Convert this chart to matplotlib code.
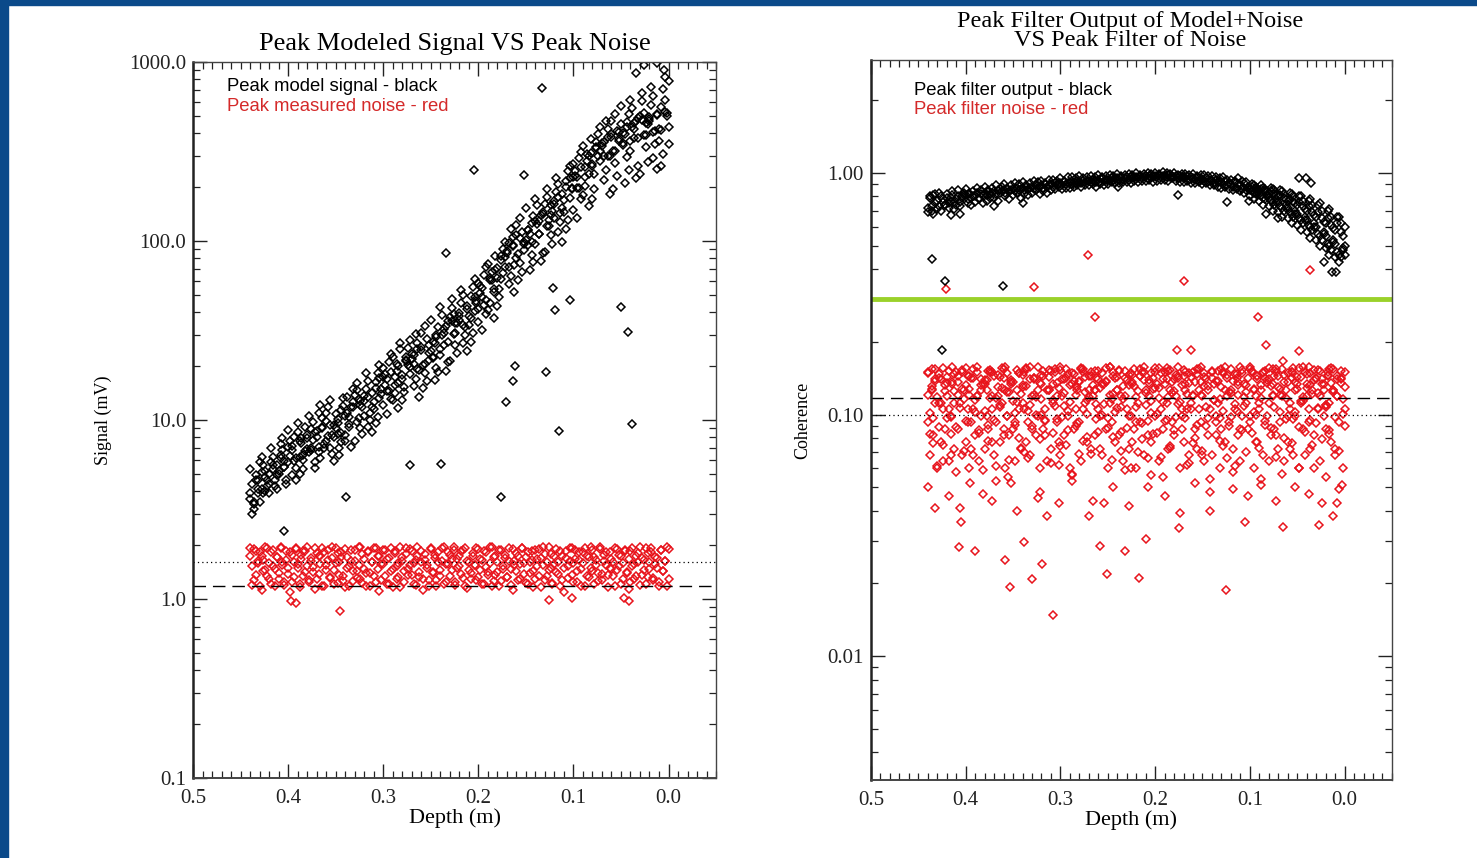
import matplotlib.pyplot as plt
from matplotlib.patches import Rectangle
from matplotlib.ticker import FixedLocator, MultipleLocator, LogLocator, NullFormatter

# depth samples (m), shared by all four series
depth = [
    0.440, 0.438, 0.436, 0.434, 0.432, 0.430, 0.428, 0.426, 0.424, 0.422,
    0.420, 0.418, 0.416, 0.414, 0.412, 0.410, 0.408, 0.406, 0.404, 0.402,
    0.400, 0.398, 0.396, 0.394, 0.392, 0.390, 0.388, 0.386, 0.384, 0.382,
    0.380, 0.378, 0.376, 0.374, 0.372, 0.370, 0.368, 0.366, 0.364, 0.362,
    0.360, 0.358, 0.356, 0.354, 0.352, 0.350, 0.348, 0.346, 0.344, 0.342,
    0.340, 0.338, 0.336, 0.334, 0.332, 0.330, 0.328, 0.326, 0.324, 0.322,
    0.320, 0.318, 0.316, 0.314, 0.312, 0.310, 0.308, 0.306, 0.304, 0.302,
    0.300, 0.298, 0.296, 0.294, 0.292, 0.290, 0.288, 0.286, 0.284, 0.282,
    0.280, 0.278, 0.276, 0.274, 0.272, 0.270, 0.268, 0.266, 0.264, 0.262,
    0.260, 0.258, 0.256, 0.254, 0.252, 0.250, 0.248, 0.246, 0.244, 0.242,
    0.240, 0.238, 0.236, 0.234, 0.232, 0.230, 0.228, 0.226, 0.224, 0.222,
    0.220, 0.218, 0.216, 0.214, 0.212, 0.210, 0.208, 0.206, 0.204, 0.202,
    0.200, 0.198, 0.196, 0.194, 0.192, 0.190, 0.188, 0.186, 0.184, 0.182,
    0.180, 0.178, 0.176, 0.174, 0.172, 0.170, 0.168, 0.166, 0.164, 0.162,
    0.160, 0.158, 0.156, 0.154, 0.152, 0.150, 0.148, 0.146, 0.144, 0.142,
    0.140, 0.138, 0.136, 0.134, 0.132, 0.130, 0.128, 0.126, 0.124, 0.122,
    0.120, 0.118, 0.116, 0.114, 0.112, 0.110, 0.108, 0.106, 0.104, 0.102,
    0.100, 0.098, 0.096, 0.094, 0.092, 0.090, 0.088, 0.086, 0.084, 0.082,
    0.080, 0.078, 0.076, 0.074, 0.072, 0.070, 0.068, 0.066, 0.064, 0.062,
    0.060, 0.058, 0.056, 0.054, 0.052, 0.050, 0.048, 0.046, 0.044, 0.042,
    0.040, 0.038, 0.036, 0.034, 0.032, 0.030, 0.028, 0.026, 0.024, 0.022,
    0.020, 0.018, 0.016, 0.014, 0.012, 0.010, 0.008, 0.006, 0.004, 0.002,
    0.000]

# peak model signal (mV), three passes (sig_c on every other depth)
sig_a = [
    3.6, 4.4, 3.2, 4.9, 3.9, 3.5, 5.1, 5.6, 4.0, 4.6,
    5.0, 5.8, 6.2, 4.6, 4.1, 5.2, 7.3, 6.8, 5.9, 4.6,
    7.1, 6.3, 4.9, 8.0, 5.4, 8.6, 6.2, 7.4, 5.3, 9.1,
    8.2, 6.6, 7.0, 9.8, 5.8, 8.7, 11.0, 6.1, 10.2, 7.3,
    9.9, 11.8, 7.0, 8.3, 5.9, 10.8, 9.6, 6.4, 7.5, 12.0,
    8.2, 13.5, 10.4, 7.1, 12.6, 7.6, 14.8, 13.1, 9.0, 11.9,
    12.8, 15.0, 16.5, 10.0, 8.6, 11.5, 9.6, 18.4, 17.2, 14.9,
    19.5, 15.6, 10.8, 21.0, 13.1, 22.6, 14.2, 18.9, 11.7, 24.8,
    12.9, 15.3, 22.4, 25.1, 19.8, 23.3, 20.5, 16.9, 27.0, 13.4,
    30.5, 15.1, 18.2, 28.3, 21.7, 24.2, 27.4, 16.8, 19.6, 33.0,
    23.1, 38.5, 30.8, 18.9, 35.6, 21.3, 42.0, 39.1, 26.2, 34.7,
    36.0, 45.3, 49.8, 29.9, 24.4, 33.8, 27.2, 55.6, 40.5, 46.1,
    58.4, 51.0, 31.7, 64.2, 38.9, 74.8, 45.3, 60.7, 37.0, 69.1,
    43.6, 54.2, 82.5, 90.3, 71.8, 88.0, 97.2, 63.4, 106, 51.7,
    123, 60.2, 75.1, 112, 96.8, 101, 115, 68.5, 83.9, 138,
    96.4, 158, 129, 77.0, 145, 86.3, 176, 131, 108, 147,
    168, 189, 208, 127, 98.7, 146, 116, 245, 224, 199,
    268, 231, 135, 290, 172, 340, 203, 281, 156, 312,
    171, 236, 356, 395, 318, 351, 297, 249, 425, 184,
    468, 196, 274, 410, 372, 448, 401, 210, 293, 512,
    318, 556, 425, 226, 489, 238, 604, 520, 334, 452,
    470, 572, 648, 349, 251, 362, 262, 705, 610, 498,
    780]
sig_b = [
    5.3, 3.0, 3.4, 4.6, 4.1, 5.8, 6.2, 3.9, 4.8, 4.3,
    3.9, 7.0, 5.3, 4.3, 5.6, 5.0, 6.4, 7.9, 5.5, 4.4,
    8.8, 7.6, 6.8, 5.9, 4.6, 9.6, 5.0, 7.9, 6.0, 6.7,
    6.9, 10.6, 8.9, 7.7, 5.4, 8.0, 6.6, 12.1, 9.2, 7.0,
    10.9, 8.1, 12.9, 6.5, 9.4, 9.0, 8.4, 7.0, 11.4, 13.3,
    7.6, 10.9, 9.5, 11.8, 15.0, 13.8, 16.2, 10.3, 12.2, 8.4,
    13.6, 18.3, 9.2, 11.0, 14.1, 12.6, 16.3, 10.4, 20.3, 14.0,
    12.1, 18.0, 16.9, 14.6, 23.4, 13.0, 17.4, 20.6, 16.0, 26.9,
    17.8, 14.4, 21.7, 20.3, 28.0, 22.0, 15.5, 30.1, 25.0, 19.0,
    25.6, 20.4, 33.7, 16.6, 23.8, 36.4, 22.3, 26.9, 29.8, 18.5,
    42.6, 29.8, 26.4, 33.4, 21.0, 37.4, 47.2, 30.1, 35.0, 23.8,
    38.2, 53.6, 27.0, 33.0, 41.9, 38.2, 49.5, 30.6, 61.5, 44.9,
    35.2, 56.0, 48.6, 44.1, 71.3, 41.0, 60.5, 66.8, 52.1, 82.0,
    61.9, 48.5, 78.0, 66.4, 99.0, 85.6, 57.8, 117, 95.1, 73.5,
    108, 84.2, 135, 67.0, 99.3, 152, 95.5, 110, 126, 76.2,
    172, 125, 110, 139, 86.0, 162, 195, 122, 140, 96.6,
    160, 226, 112, 143, 182, 170, 216, 131, 262, 196,
    150, 245, 228, 199, 316, 180, 260, 305, 236, 372,
    270, 196, 330, 298, 432, 338, 220, 470, 382, 300,
    395, 318, 515, 232, 360, 565, 352, 396, 460, 248,
    610, 432, 378, 470, 262, 498, 668, 390, 455, 276,
    480, 725, 290, 410, 515, 420, 560, 305, 820, 520,
    350]
sig_c = [
    3.9, 3.5, 4.6, 4.1, 5.2, 4.4, 5.6, 4.9, 6.1, 5.5,
    5.8, 7.2, 6.1, 7.6, 6.4, 7.9, 6.8, 8.6, 7.1, 9.0,
    7.6, 9.4, 8.0, 10.1, 8.5, 10.6, 9.1, 11.8, 9.8, 12.7,
    10.6, 13.4, 11.8, 15.1, 13.2, 17.3, 14.6, 18.6, 15.7, 20.1,
    16.9, 21.4, 18.1, 23.0, 19.3, 24.6, 20.6, 26.1, 22.4, 29.0,
    24.9, 32.1, 27.4, 35.8, 30.6, 39.7, 33.8, 43.5, 37.2, 48.4,
    41.5, 54.6, 47.1, 62.0, 53.7, 70.6, 61.5, 81.7, 71.2, 94.1,
    80.9, 104, 88.8, 115, 98.9, 129, 110, 141, 121, 158,
    134, 177, 152, 201, 173, 228, 198, 259, 227, 300,
    261, 335, 281, 358, 299, 380, 319, 408, 342, 434,
    361, 455, 375, 472, 389, 490, 404, 507, 418, 526,
    435]
sig_out_depth = [0.205, 0.152, 0.133, 0.234, 0.050, 0.043, 0.038, 0.115, 0.171, 0.164,
                 0.161, 0.129, 0.176, 0.239, 0.272, 0.339, 0.404, 0.104, 0.121, 0.119,
                 0.026, 0.012, 0.005, 0.034]
sig_out = [250, 234, 716, 86, 43, 31, 9.5, 8.7, 12.6, 16.5,
           20, 18.5, 3.7, 5.7, 5.6, 3.7, 2.4, 47, 55, 41,
           960, 985, 900, 870]

# peak measured noise (mV), two passes
noise_a = [
    1.94, 1.52, 1.27, 1.85, 1.63, 1.18, 1.74, 1.43, 1.95, 1.34,
    1.58, 1.22, 1.88, 1.47, 1.71, 1.30, 1.93, 1.55, 1.20, 1.66,
    1.38, 1.82, 1.25, 1.61, 1.94, 1.49, 1.17, 1.77, 1.35, 1.86,
    1.53, 1.24, 1.69, 1.41, 1.92, 1.29, 1.75, 1.57, 1.19, 1.84,
    1.45, 1.65, 1.32, 1.95, 1.21, 1.59, 1.80, 1.37, 1.72, 1.26,
    1.90, 1.50, 1.18, 1.64, 1.43, 1.87, 1.31, 1.55, 1.96, 1.23,
    1.68, 1.40, 1.83, 1.19, 1.61, 1.35, 1.93, 1.47, 1.74, 1.28,
    1.56, 1.89, 1.22, 1.70, 1.44, 1.17, 1.85, 1.52, 1.33, 1.95,
    1.63, 1.25, 1.78, 1.48, 1.91, 1.36, 1.59, 1.20, 1.73, 1.42,
    1.86, 1.30, 1.66, 1.54, 1.18, 1.94, 1.39, 1.76, 1.27, 1.62,
    1.45, 1.92, 1.21, 1.57, 1.83, 1.34, 1.68, 1.96, 1.24, 1.50,
    1.74, 1.38, 1.88, 1.19, 1.63, 1.46, 1.29, 1.81, 1.55, 1.93,
    1.32, 1.67, 1.22, 1.85, 1.51, 1.41, 1.95, 1.18, 1.72, 1.36,
    1.60, 1.89, 1.26, 1.48, 1.77, 1.33, 1.64, 1.20, 1.90, 1.54,
    1.43, 1.73, 1.30, 1.94, 1.58, 1.23, 1.84, 1.40, 1.66, 1.17,
    1.87, 1.52, 1.35, 1.70, 1.96, 1.27, 1.61, 1.45, 1.79, 1.21,
    1.56, 1.91, 1.38, 1.19, 1.75, 1.49, 1.85, 1.31, 1.63, 1.94,
    1.25, 1.68, 1.44, 1.82, 1.18, 1.59, 1.93, 1.34, 1.71, 1.50,
    1.88, 1.22, 1.65, 1.40, 1.95, 1.28, 1.77, 1.55, 1.36, 1.84,
    1.47, 1.62, 1.19, 1.90, 1.53, 1.74, 1.30, 1.86, 1.42, 1.67,
    1.24, 1.94, 1.57, 1.35, 1.80, 1.20, 1.69, 1.46, 1.92, 1.33,
    1.61, 1.83, 1.27, 1.72, 1.50, 1.18, 1.89, 1.44, 1.64, 1.95,
    1.29]
noise_b = [
    1.74, 1.20, 1.91, 1.36, 1.58, 1.84, 1.12, 1.66, 1.45, 1.93,
    1.29, 1.82, 1.53, 1.18, 1.72, 1.40, 1.95, 1.62, 1.24, 1.86,
    1.49, 1.10, 1.76, 1.33, 1.90, 1.57, 1.21, 1.68, 1.85, 1.42,
    1.95, 1.27, 1.63, 1.51, 1.14, 1.80, 1.38, 1.73, 1.92, 1.19,
    1.55, 1.87, 1.31, 1.69, 1.46, 1.94, 1.23, 1.60, 1.83, 1.35,
    1.16, 1.71, 1.52, 1.89, 1.26, 1.64, 1.43, 1.96, 1.30, 1.78,
    1.48, 1.19, 1.85, 1.39, 1.62, 1.93, 1.25, 1.75, 1.11, 1.56,
    1.88, 1.34, 1.67, 1.21, 1.94, 1.47, 1.81, 1.29, 1.59, 1.17,
    1.72, 1.44, 1.92, 1.37, 1.54, 1.86, 1.22, 1.65, 1.95, 1.32,
    1.60, 1.13, 1.79, 1.50, 1.27, 1.90, 1.41, 1.70, 1.18, 1.84,
    1.35, 1.63, 1.95, 1.24, 1.57, 1.76, 1.45, 1.88, 1.20, 1.68,
    1.52, 1.86, 1.31, 1.93, 1.15, 1.61, 1.39, 1.74, 1.55, 1.28,
    1.91, 1.46, 1.66, 1.22, 1.83, 1.36, 1.58, 1.95, 1.26, 1.73,
    1.42, 1.18, 1.87, 1.53, 1.69, 1.33, 1.92, 1.48, 1.12, 1.64,
    1.81, 1.27, 1.56, 1.94, 1.38, 1.72, 1.21, 1.60, 1.85, 1.44,
    1.30, 1.67, 1.90, 1.17, 1.54, 1.79, 1.35, 1.96, 1.49, 1.23,
    1.75, 1.41, 1.62, 1.86, 1.28, 1.10, 1.70, 1.53, 1.93, 1.37,
    1.58, 1.89, 1.24, 1.65, 1.47, 1.82, 1.19, 1.74, 1.32, 1.95,
    1.43, 1.71, 1.55, 1.26, 1.91, 1.38, 1.63, 1.84, 1.16, 1.50,
    1.68, 1.34, 1.94, 1.45, 1.77, 1.22, 1.59, 1.88, 1.40, 1.14,
    1.85, 1.52, 1.29, 1.73, 1.62, 1.95, 1.36, 1.66, 1.21, 1.80,
    1.47, 1.92, 1.31, 1.57, 1.70, 1.25, 1.87, 1.44, 1.64, 1.19,
    1.90]
noise_out_depth = [0.397, 0.392, 0.345, 0.126, 0.101, 0.047, 0.042]
noise_out = [0.98, 0.95, 0.86, 0.99, 1.01, 1.01, 0.98]

# peak filter output (coherence), coh_c on depths 0.100 .. 0.000
coh_a = [
    0.72, 0.79, 0.70, 0.81, 0.75, 0.77, 0.73, 0.80, 0.76, 0.74,
    0.79, 0.75, 0.77, 0.81, 0.76, 0.78, 0.80, 0.76, 0.79, 0.81,
    0.81, 0.78, 0.82, 0.79, 0.80, 0.80, 0.83, 0.79, 0.82, 0.81,
    0.83, 0.81, 0.84, 0.82, 0.83, 0.84, 0.82, 0.85, 0.83, 0.84,
    0.85, 0.83, 0.86, 0.84, 0.85, 0.86, 0.84, 0.87, 0.85, 0.86,
    0.87, 0.85, 0.88, 0.86, 0.87, 0.88, 0.86, 0.89, 0.87, 0.88,
    0.89, 0.87, 0.90, 0.88, 0.89, 0.90, 0.88, 0.91, 0.89, 0.90,
    0.91, 0.89, 0.92, 0.90, 0.91, 0.92, 0.90, 0.92, 0.91, 0.93,
    0.92, 0.91, 0.93, 0.92, 0.93, 0.93, 0.92, 0.94, 0.93, 0.92,
    0.94, 0.92, 0.95, 0.93, 0.94, 0.94, 0.93, 0.95, 0.94, 0.95,
    0.95, 0.94, 0.96, 0.94, 0.95, 0.96, 0.94, 0.96, 0.95, 0.96,
    0.96, 0.95, 0.97, 0.95, 0.96, 0.97, 0.95, 0.97, 0.96, 0.97,
    0.97, 0.96, 0.98, 0.96, 0.97, 0.97, 0.96, 0.98, 0.96, 0.97,
    0.96, 0.97, 0.95, 0.97, 0.96, 0.96, 0.95, 0.97, 0.94, 0.96,
    0.95, 0.94, 0.96, 0.93, 0.95, 0.94, 0.93, 0.95, 0.92, 0.94,
    0.93, 0.91, 0.94, 0.92, 0.93, 0.92, 0.90, 0.93, 0.89, 0.91,
    0.90, 0.88, 0.92, 0.87, 0.90, 0.89, 0.86, 0.91, 0.85, 0.88,
    0.87, 0.84, 0.89, 0.82, 0.86, 0.85, 0.80, 0.87, 0.78, 0.84,
    0.83, 0.77, 0.86, 0.74, 0.81, 0.80, 0.73, 0.84, 0.70, 0.78,
    0.77, 0.69, 0.82, 0.66, 0.75, 0.74, 0.65, 0.80, 0.62, 0.71,
    0.70, 0.61, 0.78, 0.58, 0.67, 0.66, 0.56, 0.75, 0.53, 0.63,
    0.62, 0.51, 0.71, 0.48, 0.59, 0.58, 0.47, 0.66, 0.45, 0.55,
    0.50]
coh_b = [
    0.69, 0.80, 0.73, 0.68, 0.82, 0.71, 0.83, 0.70, 0.78, 0.74,
    0.82, 0.72, 0.79, 0.84, 0.71, 0.74, 0.85, 0.73, 0.80, 0.83,
    0.86, 0.75, 0.83, 0.74, 0.84, 0.76, 0.87, 0.78, 0.85, 0.75,
    0.88, 0.77, 0.85, 0.79, 0.87, 0.79, 0.89, 0.77, 0.86, 0.88,
    0.90, 0.80, 0.87, 0.78, 0.89, 0.81, 0.91, 0.83, 0.90, 0.79,
    0.92, 0.82, 0.89, 0.81, 0.91, 0.83, 0.93, 0.85, 0.92, 0.82,
    0.93, 0.84, 0.91, 0.83, 0.94, 0.85, 0.94, 0.86, 0.93, 0.88,
    0.95, 0.86, 0.93, 0.87, 0.96, 0.87, 0.96, 0.88, 0.95, 0.89,
    0.97, 0.88, 0.95, 0.89, 0.96, 0.89, 0.97, 0.90, 0.96, 0.88,
    0.98, 0.90, 0.96, 0.89, 0.97, 0.90, 0.98, 0.92, 0.97, 0.91,
    0.99, 0.91, 0.97, 0.92, 0.98, 0.92, 0.99, 0.91, 0.98, 0.93,
    1.00, 0.92, 0.98, 0.93, 0.99, 0.93, 1.00, 0.94, 0.99, 0.92,
    1.00, 0.93, 0.99, 0.94, 1.01, 0.94, 1.00, 0.93, 0.99, 0.95,
    1.00, 0.93, 0.98, 0.92, 0.99, 0.92, 0.99, 0.93, 0.98, 0.91,
    0.99, 0.91, 0.97, 0.92, 0.98, 0.90, 0.98, 0.91, 0.97, 0.89,
    0.97, 0.89, 0.96, 0.88, 0.95, 0.87, 0.96, 0.88, 0.94, 0.86,
    0.94, 0.85, 0.93, 0.86, 0.95, 0.84, 0.93, 0.83, 0.92, 0.87,
    0.85, 0.88, 0.83, 0.87, 0.84, 0.82, 0.86, 0.79, 0.84, 0.81,
    0.79, 0.84, 0.76, 0.82, 0.78, 0.76, 0.81, 0.72, 0.79, 0.74,
    0.72, 0.78, 0.68, 0.76, 0.70, 0.68, 0.76, 0.64, 0.73, 0.66,
    0.64, 0.73, 0.60, 0.69, 0.62, 0.60, 0.69, 0.55, 0.65, 0.57,
    0.55, 0.65, 0.50, 0.61, 0.53, 0.51, 0.62, 0.46, 0.57, 0.49,
    0.60]
coh_c = [
    0.80, 0.90, 0.78, 0.88, 0.82, 0.77, 0.89, 0.74, 0.86, 0.80,
    0.73, 0.87, 0.70, 0.85, 0.76, 0.69, 0.85, 0.66, 0.82, 0.72,
    0.65, 0.83, 0.62, 0.80, 0.68, 0.61, 0.80, 0.58, 0.77, 0.64,
    0.57, 0.77, 0.54, 0.74, 0.60, 0.53, 0.74, 0.50, 0.70, 0.56,
    0.49, 0.70, 0.46, 0.66, 0.52, 0.45, 0.66, 0.43, 0.62, 0.48,
    0.46]
coh_out_depth = [0.436, 0.422, 0.361, 0.009, 0.013, 0.022, 0.415, 0.406, 0.370, 0.340,
                 0.239, 0.176, 0.124, 0.101, 0.083, 0.070, 0.048, 0.041, 0.035, 0.425]
coh_out = [0.44, 0.357, 0.34, 0.39, 0.39, 0.43, 0.67, 0.68, 0.73, 0.75,
           0.88, 0.81, 0.76, 0.77, 0.68, 0.65, 0.95, 0.95, 0.91, 0.185]

# peak filter noise (coherence), cnoise_c on every other depth
cnoise_a = [
    0.148, 0.102, 0.131, 0.076, 0.155, 0.118, 0.089, 0.140, 0.064, 0.125,
    0.097, 0.152, 0.083, 0.136, 0.112, 0.058, 0.145, 0.107, 0.128, 0.071,
    0.156, 0.093, 0.121, 0.142, 0.068, 0.115, 0.150, 0.086, 0.133, 0.047,
    0.104, 0.139, 0.078, 0.153, 0.119, 0.095, 0.061, 0.146, 0.110, 0.129,
    0.082, 0.157, 0.099, 0.124, 0.052, 0.137, 0.091, 0.113, 0.149, 0.073,
    0.132, 0.106, 0.154, 0.066, 0.141, 0.087, 0.120, 0.100, 0.157, 0.079,
    0.116, 0.144, 0.094, 0.038, 0.127, 0.151, 0.084, 0.109, 0.135, 0.062,
    0.153, 0.098, 0.123, 0.075, 0.147, 0.113, 0.056, 0.138, 0.090, 0.130,
    0.069, 0.155, 0.105, 0.143, 0.081, 0.118, 0.150, 0.044, 0.126, 0.096,
    0.140, 0.072, 0.134, 0.111, 0.156, 0.088, 0.121, 0.065, 0.145, 0.103,
    0.127, 0.152, 0.085, 0.116, 0.059, 0.139, 0.099, 0.148, 0.077, 0.131,
    0.108, 0.070, 0.144, 0.092, 0.157, 0.123, 0.050, 0.135, 0.114, 0.083,
    0.150, 0.101, 0.129, 0.067, 0.141, 0.094, 0.156, 0.118, 0.074, 0.137,
    0.086, 0.146, 0.111, 0.039, 0.132, 0.153, 0.097, 0.122, 0.063, 0.143,
    0.119, 0.080, 0.155, 0.106, 0.136, 0.071, 0.149, 0.090, 0.127, 0.054,
    0.142, 0.115, 0.093, 0.151, 0.078, 0.130, 0.104, 0.157, 0.066, 0.124,
    0.098, 0.138, 0.061, 0.147, 0.120, 0.087, 0.153, 0.109, 0.133, 0.046,
    0.155, 0.084, 0.126, 0.100, 0.144, 0.073, 0.117, 0.150, 0.091, 0.139,
    0.064, 0.131, 0.154, 0.108, 0.082, 0.145, 0.121, 0.057, 0.137, 0.096,
    0.148, 0.112, 0.076, 0.156, 0.103, 0.128, 0.089, 0.143, 0.118, 0.068,
    0.134, 0.157, 0.095, 0.122, 0.060, 0.141, 0.107, 0.151, 0.079, 0.126,
    0.110, 0.146, 0.086, 0.135, 0.154, 0.072, 0.119, 0.049, 0.140, 0.101,
    0.130]
cnoise_b = [
    0.121, 0.083, 0.154, 0.097, 0.138, 0.061, 0.147, 0.112, 0.075, 0.132,
    0.143, 0.106, 0.068, 0.157, 0.125, 0.089, 0.136, 0.041, 0.150, 0.116,
    0.094, 0.145, 0.128, 0.072, 0.155, 0.103, 0.119, 0.084, 0.140, 0.059,
    0.134, 0.099, 0.152, 0.117, 0.077, 0.144, 0.053, 0.130, 0.108, 0.156,
    0.087, 0.127, 0.149, 0.065, 0.139, 0.114, 0.093, 0.153, 0.080, 0.122,
    0.146, 0.070, 0.131, 0.104, 0.157, 0.090, 0.141, 0.118, 0.045, 0.135,
    0.100, 0.151, 0.082, 0.126, 0.143, 0.063, 0.115, 0.155, 0.096, 0.129,
    0.074, 0.140, 0.109, 0.154, 0.086, 0.132, 0.057, 0.147, 0.120, 0.092,
    0.137, 0.156, 0.078, 0.124, 0.101, 0.145, 0.069, 0.133, 0.152, 0.111,
    0.085, 0.129, 0.148, 0.043, 0.138, 0.097, 0.157, 0.116, 0.081, 0.142,
    0.107, 0.153, 0.071, 0.131, 0.119, 0.088, 0.146, 0.060, 0.136, 0.155,
    0.093, 0.125, 0.144, 0.079, 0.150, 0.110, 0.066, 0.139, 0.102, 0.128,
    0.156, 0.084, 0.117, 0.148, 0.055, 0.134, 0.095, 0.152, 0.073, 0.123,
    0.141, 0.098, 0.157, 0.113, 0.087, 0.144, 0.126, 0.062, 0.149, 0.105,
    0.076, 0.136, 0.091, 0.154, 0.120, 0.068, 0.143, 0.108, 0.131, 0.048,
    0.150, 0.115, 0.082, 0.138, 0.097, 0.155, 0.074, 0.127, 0.146, 0.090,
    0.123, 0.058, 0.147, 0.104, 0.133, 0.157, 0.086, 0.118, 0.070, 0.142,
    0.099, 0.152, 0.128, 0.077, 0.140, 0.112, 0.051, 0.149, 0.094, 0.135,
    0.156, 0.088, 0.121, 0.145, 0.067, 0.130, 0.103, 0.154, 0.080, 0.117,
    0.137, 0.072, 0.150, 0.096, 0.126, 0.143, 0.060, 0.114, 0.157, 0.085,
    0.129, 0.106, 0.148, 0.075, 0.139, 0.092, 0.153, 0.119, 0.043, 0.134,
    0.110, 0.145, 0.083, 0.156, 0.124, 0.098, 0.141, 0.071, 0.151, 0.116,
    0.090]
cnoise_c = [
    0.150, 0.128, 0.141, 0.112, 0.156, 0.135, 0.098, 0.147, 0.121, 0.153,
    0.133, 0.144, 0.106, 0.157, 0.126, 0.139, 0.091, 0.150, 0.117, 0.143,
    0.155, 0.124, 0.137, 0.102, 0.148, 0.130, 0.156, 0.110, 0.142, 0.127,
    0.146, 0.095, 0.153, 0.134, 0.119, 0.157, 0.140, 0.104, 0.149, 0.131,
    0.138, 0.154, 0.115, 0.145, 0.127, 0.152, 0.100, 0.136, 0.157, 0.122,
    0.143, 0.108, 0.151, 0.132, 0.146, 0.118, 0.155, 0.139, 0.094, 0.148,
    0.129, 0.156, 0.113, 0.141, 0.153, 0.125, 0.144, 0.105, 0.150, 0.135,
    0.120, 0.147, 0.157, 0.131, 0.097, 0.152, 0.138, 0.116, 0.149, 0.142,
    0.155, 0.111, 0.136, 0.148, 0.124, 0.157, 0.103, 0.145, 0.133, 0.151,
    0.140, 0.119, 0.154, 0.128, 0.146, 0.099, 0.150, 0.137, 0.156, 0.114,
    0.147, 0.132, 0.153, 0.123, 0.141, 0.108, 0.155, 0.126, 0.144, 0.135,
    0.150]
cnoise_d = [
    0.093, 0.068, 0.126, 0.082, 0.112, 0.060, 0.142, 0.077, 0.105, 0.087,
    0.119, 0.064, 0.099, 0.134, 0.072, 0.150, 0.087, 0.112, 0.068, 0.126,
    0.077, 0.105, 0.060, 0.093, 0.142, 0.082, 0.119, 0.064, 0.099, 0.134,
    0.072, 0.126, 0.087, 0.150, 0.105, 0.068, 0.093, 0.119, 0.077, 0.112,
    0.142, 0.060, 0.099, 0.082, 0.134, 0.087, 0.064, 0.126, 0.105, 0.072,
    0.112, 0.150, 0.077, 0.093, 0.068, 0.119, 0.142, 0.082, 0.099, 0.060,
    0.134, 0.087, 0.105, 0.064, 0.126, 0.072, 0.112, 0.150, 0.093, 0.077,
    0.068, 0.119, 0.082, 0.142, 0.099, 0.060, 0.134, 0.087, 0.105, 0.126,
    0.093, 0.064, 0.150, 0.112, 0.077, 0.126, 0.072, 0.119, 0.082, 0.142,
    0.105, 0.099, 0.068, 0.134, 0.087, 0.060, 0.112, 0.093, 0.150, 0.077,
    0.126, 0.082, 0.119, 0.064, 0.142, 0.105, 0.072, 0.099, 0.134, 0.087,
    0.060, 0.112, 0.093, 0.150, 0.068, 0.126, 0.082, 0.119, 0.077, 0.142,
    0.099, 0.134, 0.064, 0.105, 0.087, 0.150, 0.112, 0.072, 0.126, 0.093,
    0.082, 0.119, 0.142, 0.060, 0.099, 0.077, 0.134, 0.105, 0.068, 0.112,
    0.150, 0.087, 0.072, 0.126, 0.093, 0.119, 0.064, 0.142, 0.082, 0.105,
    0.068, 0.134, 0.099, 0.112, 0.060, 0.087, 0.150, 0.077, 0.119, 0.093,
    0.126, 0.072, 0.105, 0.142, 0.082, 0.064, 0.099, 0.134, 0.112, 0.087,
    0.093, 0.150, 0.060, 0.119, 0.077, 0.105, 0.126, 0.068, 0.142, 0.099,
    0.112, 0.082, 0.134, 0.087, 0.150, 0.072, 0.093, 0.119, 0.064, 0.126,
    0.077, 0.105, 0.142, 0.068, 0.099, 0.134, 0.060, 0.112, 0.087, 0.150,
    0.119, 0.093, 0.072, 0.126, 0.082, 0.142, 0.105, 0.064, 0.134, 0.099,
    0.087, 0.150, 0.112, 0.077, 0.126, 0.068, 0.119, 0.093, 0.142, 0.060,
    0.105]
cnoise_out_depth = [0.421, 0.328, 0.271, 0.169, 0.036, 0.263, 0.091, 0.177, 0.162, 0.083,
                    0.048, 0.065, 0.407, 0.390, 0.358, 0.353, 0.330, 0.319, 0.308, 0.258,
                    0.251, 0.232, 0.217, 0.210, 0.125, 0.338, 0.065, 0.027, 0.012, 0.175,
                    0.440, 0.432, 0.418, 0.405, 0.395, 0.372, 0.355, 0.346, 0.322, 0.301,
                    0.288, 0.270, 0.245, 0.228, 0.204, 0.190, 0.158, 0.142, 0.118, 0.105,
                    0.088, 0.072, 0.052, 0.038, 0.020, 0.008, 0.003]
cnoise_out = [0.332, 0.338, 0.458, 0.359, 0.397, 0.254, 0.254, 0.185, 0.185, 0.194,
              0.183, 0.166, 0.0284, 0.0272, 0.0250, 0.0193, 0.0209, 0.0240, 0.0148, 0.0286,
              0.0219, 0.0272, 0.0210, 0.0306, 0.0188, 0.0297, 0.0342, 0.035, 0.038, 0.034,
              0.050, 0.041, 0.046, 0.036, 0.052, 0.044, 0.055, 0.040, 0.048, 0.043,
              0.053, 0.038, 0.050, 0.042, 0.056, 0.046, 0.052, 0.040, 0.049, 0.036,
              0.054, 0.044, 0.050, 0.047, 0.055, 0.043, 0.051]

depth_ticks = [0.5, 0.4, 0.3, 0.2, 0.1, 0.0]
depth_labels = ["0.5", "0.4", "0.3", "0.2", "0.1", "0.0"]
sig_ticks = [0.1, 1.0, 10.0, 100.0, 1000.0]
sig_labels = ["0.1", "1.0", "10.0", "100.0", "1000.0"]
coh_ticks = [0.01, 0.1, 1.0]
coh_labels = ["0.01", "0.10", "1.00"]

RED = "#e8141c"
SERIF = "Liberation Serif"
SANS = "Liberation Sans"

fig = plt.figure(figsize=(14.77, 8.58), dpi=100)
fig.patches.append(Rectangle((0, 1 - 5 / 858), 1, 5 / 858, transform=fig.transFigure,
                             color="#0b4a8a", zorder=-5))
fig.patches.append(Rectangle((0, 0), 8 / 1477, 1, transform=fig.transFigure,
                             color="#0b4a8a", zorder=-5))


def style_axes(ax, yticks, ylabels):
    ax.set_xlim(0.5, -0.05)
    ax.set_yscale("log")
    ax.xaxis.set_major_locator(FixedLocator(depth_ticks))
    ax.set_xticklabels(depth_labels, fontfamily=SERIF, fontsize=15)
    ax.xaxis.set_minor_locator(MultipleLocator(0.01))
    ax.yaxis.set_major_locator(FixedLocator(yticks))
    ax.set_yticklabels(ylabels, fontfamily=SERIF, fontsize=15)
    ax.yaxis.set_minor_locator(LogLocator(base=10, subs=range(2, 10)))
    ax.yaxis.set_minor_formatter(NullFormatter())
    ax.tick_params(which="both", direction="in", top=True, right=True, colors="#222222")
    ax.tick_params(which="major", length=10, width=1.0)
    ax.tick_params(which="minor", length=5, width=0.9)
    ax.tick_params(axis="x", which="major", pad=8)
    ax.tick_params(axis="y", which="major", pad=5)
    ax.set_xlabel("Depth (m)", fontfamily=SERIF, fontsize=16, labelpad=0)
    for s in ax.spines.values():
        s.set_linewidth(1.0)
        s.set_color("#444444")
    ax.spines["left"].set_linewidth(1.8)
    ax.spines["left"].set_color("#222222")
    ax.spines["bottom"].set_linewidth(1.4)


mk = dict(linestyle="none", marker="D", markersize=4.0, markerfacecolor="none", markeredgewidth=1.1)

# left panel: signal vs noise
ax1 = fig.add_axes([0.1307, 0.0932, 0.3541, 0.8345])
style_axes(ax1, sig_ticks, sig_labels)
ax1.set_ylim(0.1, 1000)
ax1.plot(depth, noise_a, markeredgecolor=RED, **mk)
ax1.plot(depth, noise_b, markeredgecolor=RED, **mk)
ax1.plot(noise_out_depth, noise_out, markeredgecolor=RED, **mk)
ax1.plot(depth, sig_a, markeredgecolor="black", **mk)
ax1.plot(depth, sig_b, markeredgecolor="black", **mk)
ax1.plot(depth[::2], sig_c, markeredgecolor="black", **mk)
ax1.plot(sig_out_depth, sig_out, markeredgecolor="black", **mk)
ax1.axhline(1.6, color="black", linestyle=(0, (1, 2.5)), linewidth=0.9)
ax1.axhline(1.18, color="black", linestyle=(0, (9, 5)), linewidth=1.0)
ax1.set_ylabel("Signal (mV)", fontfamily=SERIF, fontsize=13, labelpad=12)
ax1.text(0.065, 0.966, "Peak model signal - black", transform=ax1.transAxes,
         fontfamily=SANS, fontsize=13.3, color="black", va="center")
ax1.text(0.065, 0.938, "Peak measured noise - red", transform=ax1.transAxes,
         fontfamily=SANS, fontsize=13.3, color="#d42a2a", va="center")
fig.text(455 / 1477, 1 - 44 / 858, "Peak Modeled Signal VS Peak Noise",
         fontfamily=SERIF, fontsize=19, ha="center", va="center")

# right panel: filter output vs filter noise
ax2 = fig.add_axes([0.5897, 0.0909, 0.3527, 0.8392])
style_axes(ax2, coh_ticks, coh_labels)
ax2.set_ylim(0.00307, 2.94)
ax2.plot(depth, cnoise_a, markeredgecolor=RED, **mk)
ax2.plot(depth, cnoise_b, markeredgecolor=RED, **mk)
ax2.plot(depth[::2], cnoise_c, markeredgecolor=RED, **mk)
ax2.plot(depth, cnoise_d, markeredgecolor=RED, **mk)
ax2.plot(cnoise_out_depth, cnoise_out, markeredgecolor=RED, **mk)
ax2.plot(depth, coh_a, markeredgecolor="black", **mk)
ax2.plot(depth, coh_b, markeredgecolor="black", **mk)
ax2.plot(depth[170:], coh_c, markeredgecolor="black", **mk)
ax2.plot(coh_out_depth, coh_out, markeredgecolor="black", **mk)
ax2.axhline(0.117, color="black", linestyle=(0, (9, 5)), linewidth=1.0)
ax2.axhline(0.10, color="black", linestyle=(0, (1, 2.5)), linewidth=0.9)
ax2.axhline(0.30, color="#9ad12a", linewidth=3.5)
ax2.set_ylabel("Coherence", fontfamily=SERIF, fontsize=13, labelpad=12)
ax2.text(0.0825, 0.957, "Peak filter output - black", transform=ax2.transAxes,
         fontfamily=SANS, fontsize=13.3, color="black", va="center")
ax2.text(0.0825, 0.931, "Peak filter noise - red", transform=ax2.transAxes,
         fontfamily=SANS, fontsize=13.3, color="#d42a2a", va="center")
fig.text(1130 / 1477, 1 - 21 / 858, "Peak Filter Output of Model+Noise",
         fontfamily=SERIF, fontsize=17.5, ha="center", va="center")
fig.text(1130 / 1477, 1 - 40 / 858, "VS Peak Filter of Noise",
         fontfamily=SERIF, fontsize=17.5, ha="center", va="center")

fig.savefig("out.png", dpi=100, facecolor="white")
